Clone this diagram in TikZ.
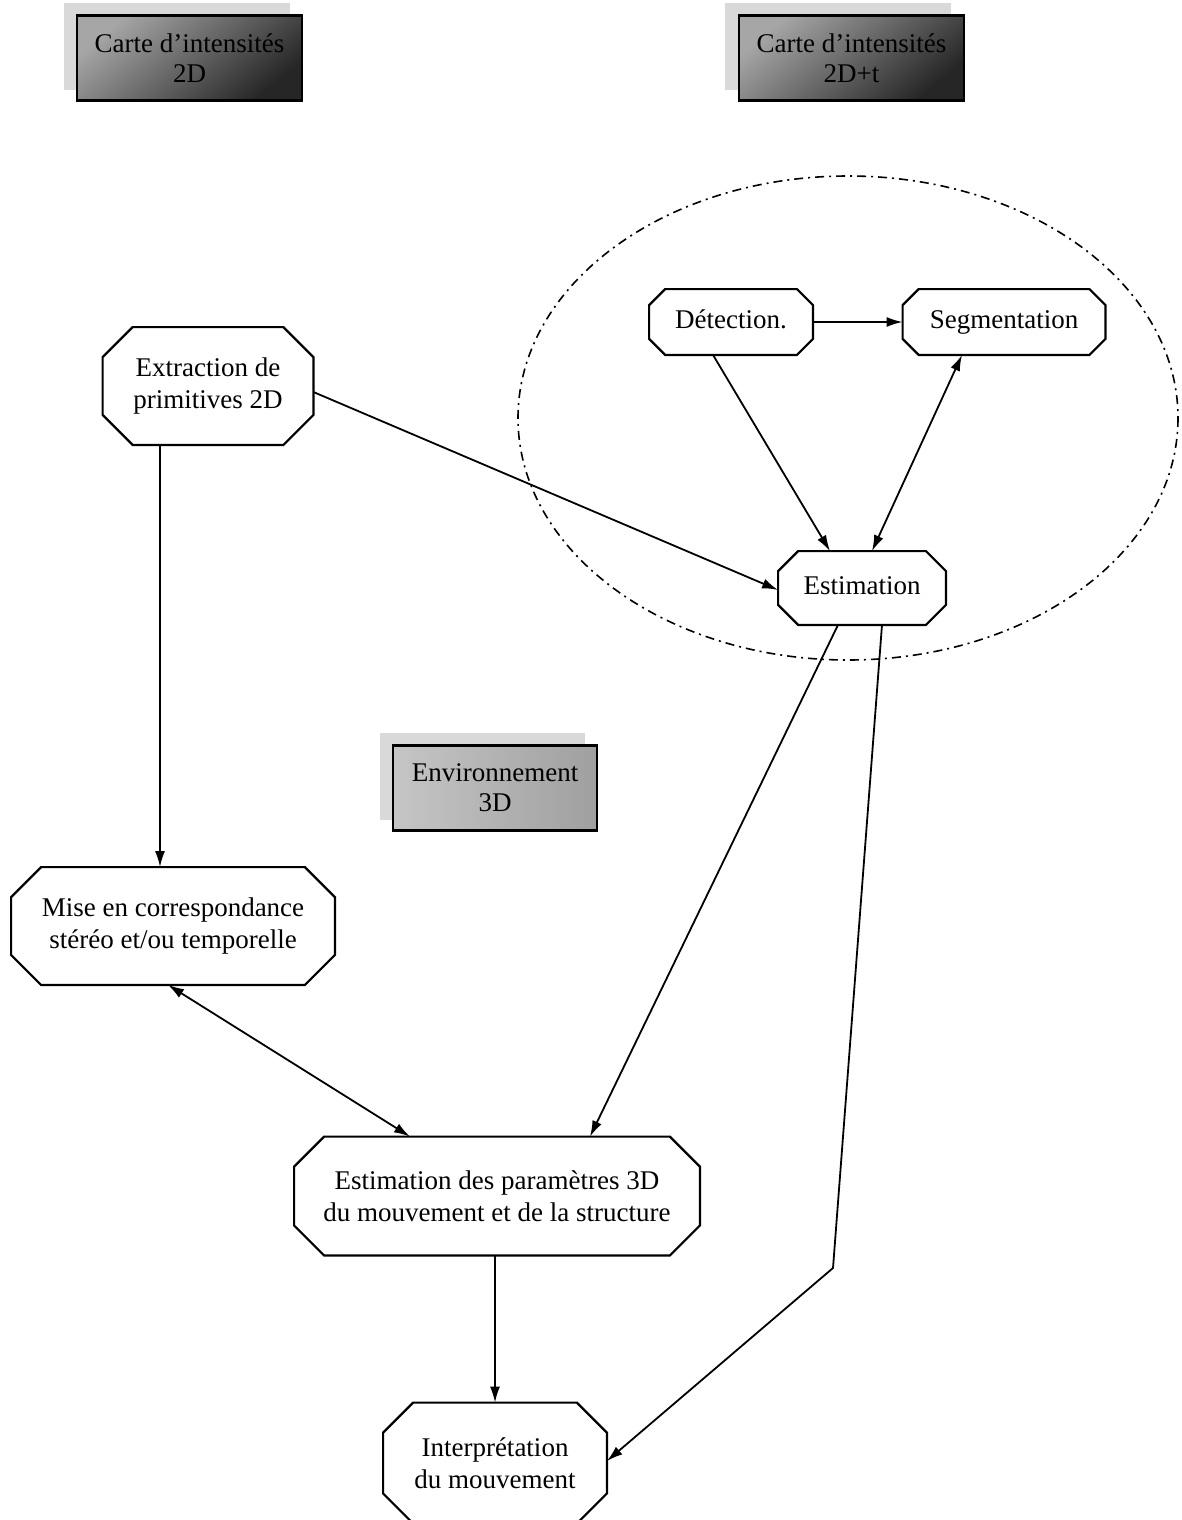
\documentclass[tikz,border=0pt]{standalone}
\usepackage{fontspec}
\setmainfont{Liberation Serif}
\usetikzlibrary{arrows.meta,calc}

\tikzset{
  etape/.style={rectangle,align=center,font=\fontsize{13.5}{16}\selectfont,inner sep=0pt},
  ligne/.style={text height=9.5pt,text depth=3pt},
  carte/.style={draw,line width=1.1pt,shading=axis,left color=gray!70,middle color=gray!8,
    right color=black!85,shading angle=40,align=center,
    font=\fontsize{13.5}{15}\selectfont,inner sep=0pt,
    minimum width=112.5pt,minimum height=42.5pt},
  ombre/.style={fill=gray!30},
  fleche/.style={line width=0.9pt,-{Latex[length=8pt,width=5pt]}},
  fleches/.style={line width=0.9pt,{Latex[length=8pt,width=5pt]}-{Latex[length=8pt,width=5pt]}},
}
% octogone autour d'un noeud : #1 nom, #2 pan coupe
\newcommand\octogone[2]{%
  \draw[line width=1.1pt] ($(#1.north west)+(#2,0)$) -- ($(#1.north east)+(-#2,0)$)
    -- ($(#1.north east)+(0,#2)$) -- ($(#1.south east)+(0,-#2)$)
    -- ($(#1.south east)+(-#2,0)$) -- ($(#1.south west)+(#2,0)$)
    -- ($(#1.south west)+(0,-#2)$) -- ($(#1.north west)+(0,#2)$) -- cycle;}

\begin{document}
\begin{tikzpicture}[x=0.5pt,y=-0.5pt]
  \useasboundingbox (0,0) rectangle (1182,1520);
  % cartes d'entree
  \fill[ombre] (64,3) rectangle (290,90);
  \fill[ombre] (725,3) rectangle (951,90);
  \fill[ombre] (380,733) rectangle (585,820);
  \node[carte] (carteA) at (189.5,58) {Carte d'intensités\\2D};
  \node[carte] (carteB) at (851.5,58) {Carte d'intensités\\2D+t};
  \node[carte,left color=gray!45,middle color=gray!30,right color=gray!75,
    minimum width=102pt] (envir) at (495,788) {Environnement\\3D};

  % zone de detection
  \draw[line width=0.8pt,dash pattern=on 4.5pt off 2.5pt on 1pt off 2.5pt]
    (848,418) ellipse [x radius=330,y radius=242];

  \node[etape,ligne,minimum width=81.5pt,minimum height=32.5pt] (detect) at (731,322) {Détection.};
  \node[etape,ligne,minimum width=101pt,minimum height=32.5pt] (segm) at (1004,322) {Segmentation};
  \node[etape,ligne,minimum width=83.5pt,minimum height=36.5pt] (estim) at (862,588) {Estimation};
  \node[etape,minimum width=105pt,minimum height=58.5pt] (extr) at (208,386) {Extraction de\\primitives 2D};
  \node[etape,minimum width=161.5pt,minimum height=58.5pt] (corresp) at (173,926) {Mise en correspondance\\stéréo et/ou temporelle};
  \node[etape,minimum width=202.5pt,minimum height=59pt] (param) at (497,1196) {Estimation des paramètres 3D\\du mouvement et de la structure};
  \node[etape,minimum width=111.5pt,minimum height=60pt] (interp) at (495,1463) {Interprétation\\du mouvement};

  \octogone{detect}{16}
  \octogone{segm}{16}
  \octogone{estim}{20}
  \octogone{extr}{30}
  \octogone{corresp}{30}
  \octogone{param}{30}
  \octogone{interp}{30}

  \coordinate (coude) at (833,1268);

  \draw[fleche] (detect.east) -- (segm.west);
  \draw[fleche] ($(detect.south)+(-18,0)$) -- ($(estim.north)+(-32,0)$);
  \draw[fleches] ($(segm.south)+(-42,0)$) -- ($(estim.north)+(10,0)$);
  \draw[fleche] ($(extr.east)+(0,6)$) -- ($(estim.west)+(0,2)$);
  \draw[fleche] ($(extr.south)+(-48,0)$) -- ($(corresp.north)+(-13,0)$);
  \draw[fleches] ($(corresp.south)+(-5,0)$) -- ($(param.north)+(-87,0)$);
  \draw[fleche] ($(estim.south)+(-24,0)$) -- ($(param.north)+(93,0)$);
  \draw[fleche] ($(estim.south)+(20,0)$) -- (coude) -- ($(interp.east)+(0,-2)$);
  \draw[fleche] ($(param.south)+(-2,0)$) -- (interp.north);
\end{tikzpicture}
\end{document}
